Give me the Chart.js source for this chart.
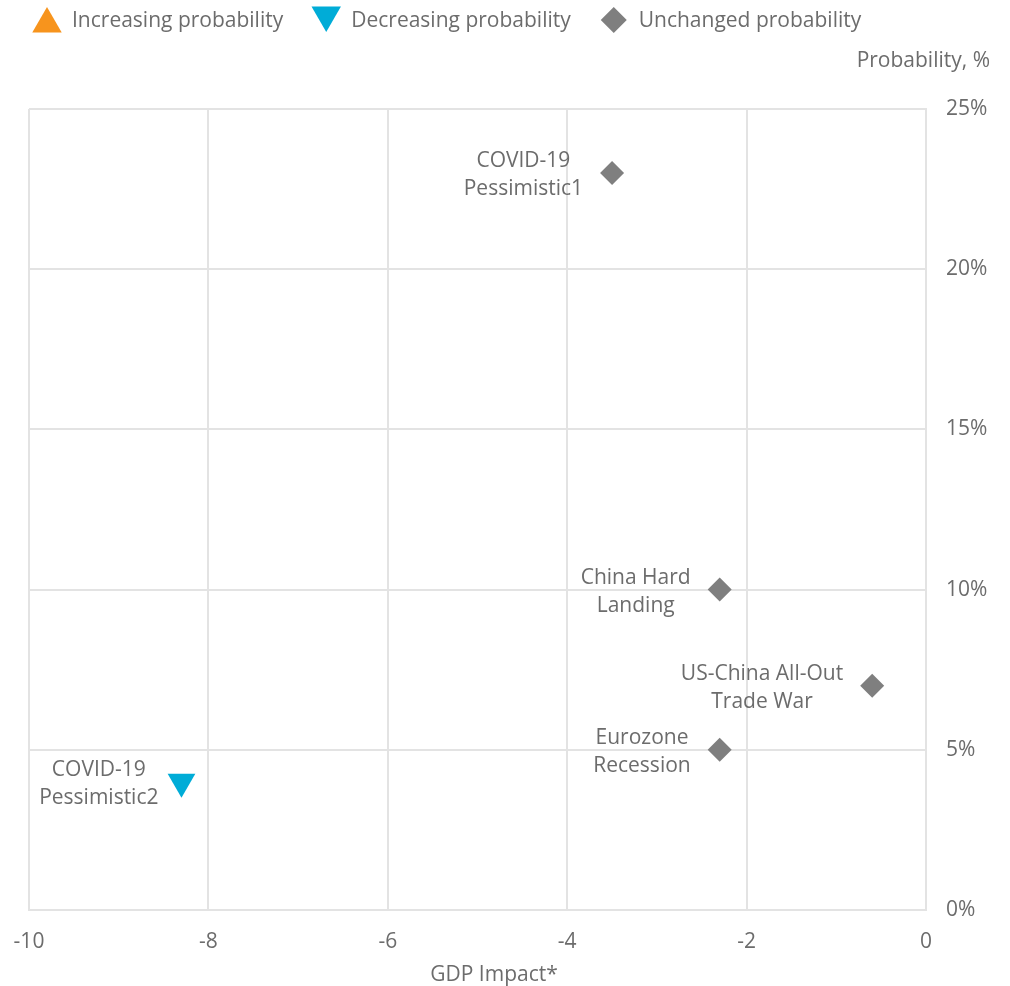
<!DOCTYPE html>
<html>
<head>
<meta charset="utf-8">
<script src="https://cdn.jsdelivr.net/npm/chart.js@4.4.1/dist/chart.umd.min.js"></script>
<style>
  html, body { margin: 0; padding: 0; background: #fff; }
  #wrap { width: 1010px; height: 986px; position: relative; }
</style>
</head>
<body>
<div id="wrap"><canvas id="riskChart" width="1010" height="986"></canvas></div>
<script>
// Scenario data
const increasingLabels = [];
const increasingGdp = [];
const increasingProb = [];

const decreasingLabels = [['COVID-19', 'Pessimistic2']];
const decreasingGdp = [-8.3];
const decreasingProb = [4];

const unchangedLabels = [
    ['COVID-19', 'Pessimistic1'],
    ['China Hard', 'Landing'],
    ['US-China All-Out', 'Trade War'],
    ['Eurozone', 'Recession']
];
const unchangedGdp = [-3.5, -2.3, -0.6, -2.3];
const unchangedProb = [23, 10, 7, 5];

const xTicks = [-10, -8, -6, -4, -2, 0];
const yTicks = [0, 5, 10, 15, 20, 25];

const FONT = '"Open Sans", "DejaVu Sans", sans-serif';
const TEXT = '#6c6c6c';
const GRID = '#e3e3e3';

function toPoints(xs, ys) {
    return xs.map((x, i) => ({ x: x, y: ys[i] }));
}

// Point labels, placed left of each marker
const pointLabels = {
    id: 'pointLabels',
    afterDatasetsDraw(chart) {
        const ctx = chart.ctx;
        ctx.save();
        ctx.font = '21px ' + FONT;
        ctx.fillStyle = TEXT;
        ctx.textAlign = 'center';
        ctx.textBaseline = 'middle';
        chart.data.datasets.forEach((ds, di) => {
            if (!ds.pointText) return;
            const meta = chart.getDatasetMeta(di);
            meta.data.forEach((el, i) => {
                const lines = ds.pointText[i];
                if (!lines) return;
                const w = Math.max(...lines.map(l => ctx.measureText(l).width));
                const cx = el.x - ds.labelGap - w / 2;
                const lh = 28;
                const top = el.y + 2 - (lines.length - 1) * lh / 2;
                lines.forEach((l, k) => ctx.fillText(l, cx, top + k * lh));
            });
        });
        ctx.restore();
    }
};

// Legend row and axis titles
const decorations = {
    id: 'decorations',
    afterDraw(chart) {
        const ctx = chart.ctx;
        ctx.save();
        ctx.font = '21px ' + FONT;
        ctx.textBaseline = 'middle';
        let x = 47;
        chart.data.datasets.forEach(ds => {
            const r = ds.pointStyle === 'triangle' ? 17 : 13;
            let my = 20;
            if (ds.pointStyle === 'triangle') my = ds.pointRotation ? 15 : 24;
            ctx.fillStyle = ds.backgroundColor;
            Chart.helpers.drawPoint(ctx, {
                pointStyle: ds.pointStyle,
                rotation: ds.pointRotation || 0,
                radius: r,
                borderWidth: 0
            }, x, my);
            ctx.fillStyle = TEXT;
            ctx.textAlign = 'left';
            const tx = x + 25;
            ctx.fillText(ds.label, tx, 21);
            x = tx + ctx.measureText(ds.label).width + 43;
        });

        ctx.textAlign = 'right';
        ctx.fillText('Probability, %', 990, 61);
        ctx.textAlign = 'center';
        ctx.fillText('GDP Impact*', 494, 975);
        ctx.restore();
    }
};

document.addEventListener('DOMContentLoaded', function() {
    const ctx = document.getElementById('riskChart').getContext('2d');
    new Chart(ctx, {
        type: 'scatter',
        data: {
            datasets: [
                {
                    label: 'Increasing probability',
                    data: toPoints(increasingGdp, increasingProb),
                    pointText: increasingLabels,
                    backgroundColor: '#f7941d',
                    pointStyle: 'triangle',
                    pointRotation: 0,
                    pointRadius: 16,
                    borderWidth: 0,
                    labelGap: 23
                },
                {
                    label: 'Decreasing probability',
                    data: toPoints(decreasingGdp, decreasingProb),
                    pointText: decreasingLabels,
                    backgroundColor: '#00acd7',
                    pointStyle: 'triangle',
                    pointRotation: 180,
                    pointRadius: 16,
                    borderWidth: 0,
                    labelGap: 23
                },
                {
                    label: 'Unchanged probability',
                    data: toPoints(unchangedGdp, unchangedProb),
                    pointText: unchangedLabels,
                    backgroundColor: '#7f7f7f',
                    pointStyle: 'rectRot',
                    pointRadius: 12,
                    borderWidth: 0,
                    labelGap: 29
                }
            ]
        },
        options: {
            responsive: false,
            animation: false,
            events: [],
            layout: { padding: { top: 109, left: 29, right: 0, bottom: 0 } },
            plugins: {
                legend: { display: false },
                tooltip: { enabled: false }
            },
            scales: {
                x: {
                    type: 'linear',
                    min: -10,
                    max: 0,
                    afterBuildTicks: s => { s.ticks = xTicks.map(v => ({ value: v })); },
                    afterFit: s => {
                        s.height = 76;
                        s.paddingLeft = 0;
                        s.paddingRight = 0;
                    },
                    grid: { color: GRID, lineWidth: 2, drawTicks: false },
                    border: { color: GRID, width: 2 },
                    ticks: {
                        padding: 19,
                        color: TEXT,
                        font: { family: FONT, size: 21 },
                        maxRotation: 0
                    }
                },
                y: {
                    type: 'linear',
                    position: 'right',
                    min: 0,
                    max: 25,
                    afterBuildTicks: s => { s.ticks = yTicks.map(v => ({ value: v })); },
                    afterFit: s => { s.width = 84; },
                    grid: { color: GRID, lineWidth: 2, drawTicks: false },
                    border: { color: GRID, width: 2 },
                    ticks: {
                        padding: 20,
                        color: TEXT,
                        font: { family: FONT, size: 21 },
                        callback: v => v + '%'
                    }
                }
            }
        },
        plugins: [pointLabels, decorations]
    });
});
</script>
</body>
</html>
